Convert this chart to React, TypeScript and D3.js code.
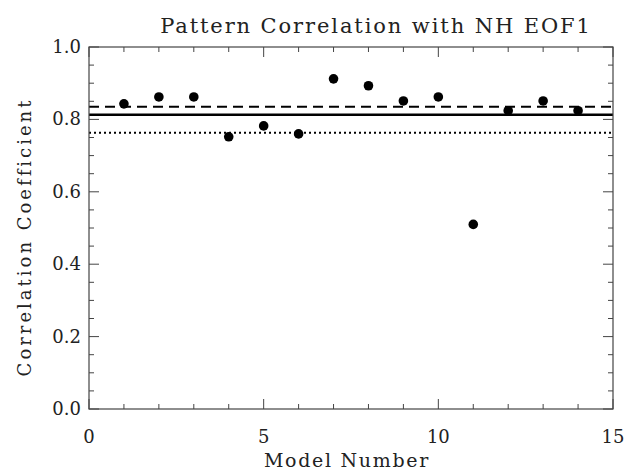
import React from "react";
import * as d3 from "d3";

const models = [1, 2, 3, 4, 5, 6, 7, 8, 9, 10, 11, 12, 13, 14];
const correlations = [0.843, 0.862, 0.862, 0.752, 0.782, 0.76, 0.912, 0.893, 0.851, 0.862, 0.51, 0.824, 0.851, 0.824];
const xTicks = [0, 5, 10, 15];
const yTicks = [0, 0.2, 0.4, 0.6, 0.8, 1.0];
// reference lines: dashed, solid, dotted
const refLines = [
  { value: 0.835, dash: "10,6", width: 2 },
  { value: 0.813, dash: "", width: 2.6 },
  { value: 0.763, dash: "2,3", width: 2 },
];

const width = 625;
const height = 472;
const margin = { top: 47, right: 12, bottom: 63, left: 89 };
const font = "'DejaVu Serif', serif";

const App: React.FC = () => {
  const innerW = width - margin.left - margin.right;
  const innerH = height - margin.top - margin.bottom;
  const x = d3.scaleLinear().domain([0, 15]).range([0, innerW]);
  const y = d3.scaleLinear().domain([0, 1]).range([innerH, 0]);
  const xMinor = d3.range(0, 16, 1);
  const yMinor = d3.range(0, 1.0001, 0.05);

  return (
    <svg width={width} height={height} style={{ position: "absolute", left: 0, top: 0, background: "#fff" }}>
      <text x={376} y={33} textAnchor="middle" fontFamily={font} fontSize={21} letterSpacing={1.9} fill="#222">
        Pattern Correlation with NH EOF1
      </text>
      <g transform={`translate(${margin.left},${margin.top})`}>
        {refLines.map((l, i) => (
          <line key={i} x1={0} x2={innerW} y1={y(l.value)} y2={y(l.value)} stroke="#000" strokeWidth={l.width} strokeDasharray={l.dash} />
        ))}
        {models.map((m, i) => (
          <circle key={m} cx={x(m)} cy={y(correlations[i])} r={4.8} fill="#000" />
        ))}
        <rect x={0} y={0} width={innerW} height={innerH} fill="none" stroke="#444" strokeWidth={1.2} />
        {xMinor.map((t) => {
          const len = t % 5 === 0 ? 10 : 5;
          return (
            <g key={"x" + t}>
              <line x1={x(t)} x2={x(t)} y1={innerH} y2={innerH - len} stroke="#444" />
              <line x1={x(t)} x2={x(t)} y1={0} y2={len} stroke="#444" />
            </g>
          );
        })}
        {yMinor.map((t, i) => {
          const len = i % 4 === 0 ? 10 : 5;
          return (
            <g key={"y" + i}>
              <line x1={0} x2={len} y1={y(t)} y2={y(t)} stroke="#444" />
              <line x1={innerW} x2={innerW - len} y1={y(t)} y2={y(t)} stroke="#444" />
            </g>
          );
        })}
        {xTicks.map((t) => (
          <text key={t} x={x(t)} y={innerH + 34} textAnchor="middle" fontFamily={font} fontSize={18} fill="#222">
            {t}
          </text>
        ))}
        {yTicks.map((t) => (
          <text key={t} x={-8} y={y(t) + 6} textAnchor="end" fontFamily={font} fontSize={18} fill="#222">
            {t.toFixed(1)}
          </text>
        ))}
        <text x={innerW / 2 - 4} y={innerH + 58} textAnchor="middle" fontFamily={font} fontSize={19} letterSpacing={1.7} fill="#222">
          Model Number
        </text>
        <text transform={`translate(-58,190) rotate(-90)`} textAnchor="middle" fontFamily={font} fontSize={18} letterSpacing={3} fill="#222">
          Correlation Coefficient
        </text>
      </g>
    </svg>
  );
};

export default App;
